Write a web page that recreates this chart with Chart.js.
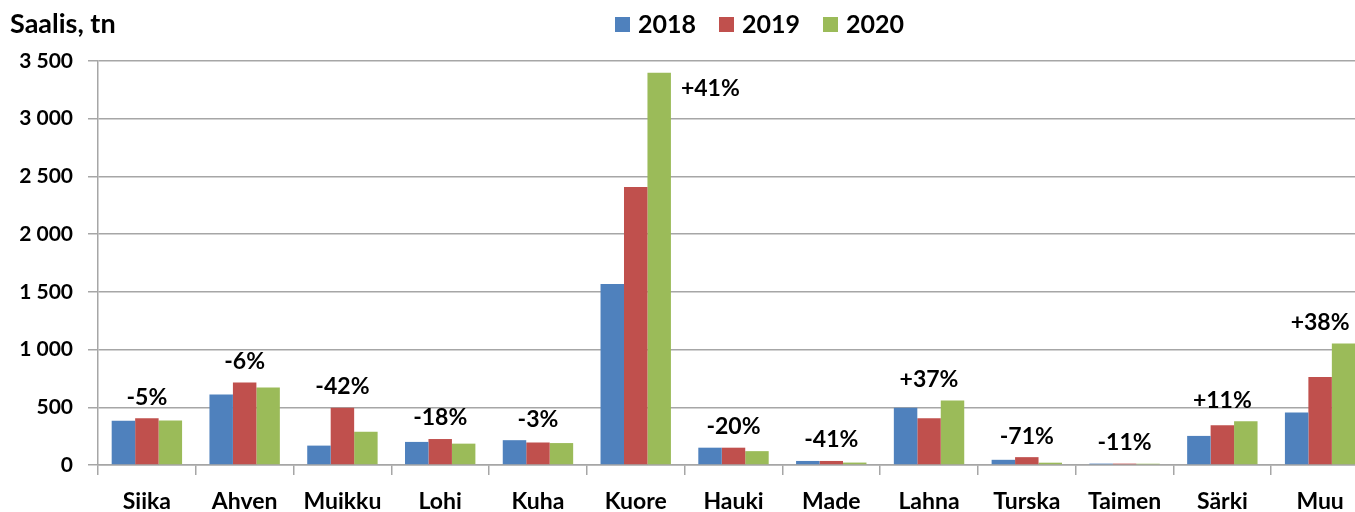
<!DOCTYPE html>
<html>
<head>
<meta charset="utf-8">
<script src="https://cdn.jsdelivr.net/npm/chart.js@4.4.1/dist/chart.umd.min.js"></script>
<style>
  html, body { margin: 0; padding: 0; background: #fff; overflow: hidden; }
  #wrap { width: 1369px; height: 512px; }
</style>
</head>
<body>
<div id="wrap"><canvas id="c" width="1369" height="512"></canvas></div>
<script>
const categories = ["Siika", "Ahven", "Muikku", "Lohi", "Kuha", "Kuore", "Hauki", "Made", "Lahna", "Turska", "Taimen", "Särki", "Muu"];
const seriesNames = ["2018", "2019", "2020"];
const values2018 = [383, 610, 168, 200, 215, 1567, 150, 35, 497, 45, 12, 252, 454];
const values2019 = [405, 715, 497, 225, 195, 2409, 150, 35, 405, 68, 12, 344, 763];
const values2020 = [385, 672, 288, 185, 190, 3398, 120, 21, 558, 20, 11, 379, 1052];
const changeLabels = ["-5%", "-6%", "-42%", "-18%", "-3%", "+41%", "-20%", "-41%", "+37%", "-71%", "-11%", "+11%", "+38%"];
const yTicks = [0, 500, 1000, 1500, 2000, 2500, 3000, 3500];
const yTickLabels = ["0", "500", "1 000", "1 500", "2 000", "2 500", "3 000", "3 500"];
const titleText = "Saalis, tn";

const colors = ["#4F81BD", "#C0504D", "#9BBB59"];
const FONT = "Lato, 'Open Sans', sans-serif";
const gridColor = "#a6a6a6";

const overlay = {
  id: "overlay",
  afterDraw(chart) {
    const ctx = chart.ctx;
    ctx.save();
    // title
    ctx.fillStyle = "#000";
    ctx.font = "bold 27px " + FONT;
    ctx.textAlign = "left";
    ctx.textBaseline = "alphabetic";
    ctx.fillText(titleText, 10, 33);
    // legend
    let x = 615;
    chart.data.datasets.forEach((ds, i) => {
      ctx.fillStyle = ds.backgroundColor;
      ctx.fillRect(x, 17, 15, 15);
      x += 23;
      ctx.fillStyle = "#000";
      ctx.font = "bold 25px " + FONT;
      ctx.fillText(ds.label, x, 33);
      x += ctx.measureText(ds.label).width + 23;
    });
    // change labels
    ctx.font = "bold 23px " + FONT;
    ctx.textBaseline = "middle";
    const metas = chart.data.datasets.map((d, i) => chart.getDatasetMeta(i));
    const area = chart.chartArea;
    categories.forEach((cat, i) => {
      const bars = metas.map(m => m.data[i]);
      const top = Math.min(...bars.map(b => b.y));
      const cx = chart.scales.x.getPixelForValue(i);
      ctx.fillStyle = "#000";
      if (top - 40 < area.top) {
        const last = bars[bars.length - 1];
        ctx.textAlign = "left";
        ctx.fillText(changeLabels[i], last.x + last.width / 2 + 10, top + 16);
      } else {
        ctx.textAlign = "center";
        ctx.fillText(changeLabels[i], cx, top - 21);
      }
    });
    ctx.restore();
  }
};

new Chart(document.getElementById("c"), {
  type: "bar",
  data: {
    labels: categories,
    datasets: [
      { label: seriesNames[0], data: values2018, backgroundColor: colors[0] },
      { label: seriesNames[1], data: values2019, backgroundColor: colors[1] },
      { label: seriesNames[2], data: values2020, backgroundColor: colors[2] }
    ]
  },
  options: {
    responsive: false,
    animation: false,
    events: [],
    layout: { padding: { top: 61, left: 0, right: 0, bottom: 0 } },
    datasets: { bar: { categoryPercentage: 0.72, barPercentage: 1.0 } },
    plugins: { legend: { display: false }, tooltip: { enabled: false }, title: { display: false } },
    scales: {
      x: {
        afterFit(s) { s.height = 47; },
        grid: { drawOnChartArea: false, drawTicks: true, tickLength: 10, color: gridColor, lineWidth: 1.5, offset: true },
        border: { color: gridColor, width: 1.5 },
        ticks: { color: "#000", font: { family: FONT, size: 23, weight: "bold" }, padding: 13, maxRotation: 0, autoSkip: false }
      },
      y: {
        min: 0, max: 3500,
        afterFit(s) { s.width = 98; },
        afterBuildTicks(s) { s.ticks = yTicks.map(v => ({ value: v })); },
        grid: { color: gridColor, lineWidth: 1.5, tickLength: 10 },
        border: { color: gridColor, width: 1.5 },
        ticks: {
          color: "#000",
          font: { family: FONT, size: 21, weight: "bold" },
          padding: 15,
          callback(v) { const k = yTicks.indexOf(v); return k >= 0 ? yTickLabels[k] : ""; }
        }
      }
    }
  },
  plugins: [overlay]
});
</script>
</body>
</html>
